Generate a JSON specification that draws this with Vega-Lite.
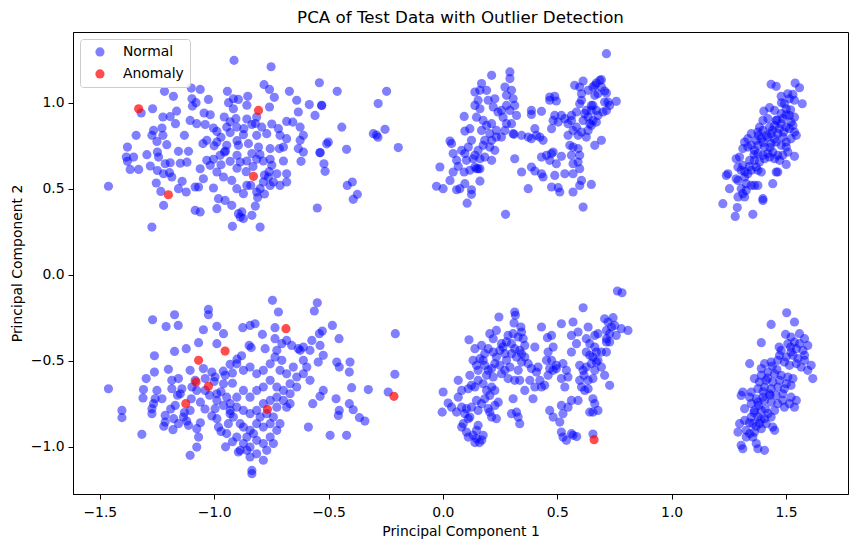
{
  "$schema": "https://vega.github.io/schema/vega-lite/v6.json",
  "width": 775,
  "height": 462,
  "autosize": {"type": "none"},
  "padding": {"left": 73, "top": 32, "right": 9, "bottom": 53},
  "title": {
    "text": "PCA of Test Data with Outlier Detection",
    "font": "DejaVu Sans",
    "fontSize": 16.7,
    "fontWeight": "normal",
    "color": "black",
    "offset": 5
  },
  "datasets": {
    "normal": [
      {"x":-0.913,"y":1.247},{"x":-0.751,"y":1.210},{"x":-0.540,"y":1.117},{"x":-0.782,"y":1.106},{"x":-0.758,"y":1.078},{"x":-1.217,"y":1.067},{"x":-1.100,"y":1.086},{"x":-1.061,"y":1.078},{"x":-0.942,"y":1.067},{"x":-0.671,"y":1.067},
      {"x":-0.462,"y":1.067},{"x":-0.246,"y":1.067},{"x":-1.178,"y":1.038},{"x":-0.853,"y":1.038},{"x":-0.737,"y":1.032},{"x":-1.097,"y":1.024},{"x":-1.025,"y":1.020},{"x":-0.916,"y":1.024},{"x":-0.894,"y":1.020},{"x":-0.639,"y":1.015},
      {"x":-1.079,"y":1.001},{"x":-0.937,"y":1.001},{"x":-0.584,"y":0.990},{"x":-0.530,"y":0.986},{"x":-0.283,"y":0.996},{"x":-1.269,"y":0.966},{"x":-1.319,"y":0.941},{"x":-1.164,"y":0.952},{"x":-1.095,"y":0.981},{"x":-1.044,"y":0.941},
      {"x":-1.017,"y":0.931},{"x":-0.916,"y":0.966},{"x":-0.857,"y":0.986},{"x":-0.758,"y":0.976},{"x":-0.632,"y":0.947},{"x":-0.559,"y":0.927},{"x":-1.224,"y":0.918},{"x":-1.192,"y":0.920},{"x":-0.956,"y":0.918},{"x":-0.905,"y":0.908},
      {"x":-0.857,"y":0.906},{"x":-0.814,"y":0.918},{"x":-0.683,"y":0.892},{"x":-0.656,"y":0.888},{"x":-0.624,"y":0.859},{"x":-1.169,"y":0.879},{"x":-1.105,"y":0.898},{"x":-1.076,"y":0.879},{"x":-1.039,"y":0.874},{"x":-1.003,"y":0.854},
      {"x":-0.945,"y":0.859},{"x":-0.901,"y":0.859},{"x":-0.835,"y":0.874},{"x":-0.792,"y":0.859},{"x":-0.748,"y":0.877},{"x":-0.719,"y":0.850},{"x":-0.442,"y":0.859},{"x":-0.253,"y":0.846},{"x":-0.304,"y":0.821},{"x":-0.290,"y":0.813},
      {"x":-1.228,"y":0.854},{"x":-1.265,"y":0.840},{"x":-1.272,"y":0.811},{"x":-1.341,"y":0.811},{"x":-1.224,"y":0.811},{"x":-1.130,"y":0.811},{"x":-0.988,"y":0.834},{"x":-0.930,"y":0.827},{"x":-0.872,"y":0.815},{"x":-0.814,"y":0.811},
      {"x":-0.770,"y":0.821},{"x":-0.712,"y":0.811},{"x":-0.683,"y":0.792},{"x":-0.624,"y":0.782},{"x":-0.610,"y":0.811},{"x":-0.501,"y":0.772},{"x":-0.508,"y":0.762},{"x":-1.250,"y":0.776},{"x":-1.207,"y":0.757},{"x":-1.379,"y":0.743},
      {"x":-1.294,"y":0.699},{"x":-1.248,"y":0.714},{"x":-1.156,"y":0.718},{"x":-1.112,"y":0.718},{"x":-1.049,"y":0.763},{"x":-1.032,"y":0.782},{"x":-0.988,"y":0.772},{"x":-0.945,"y":0.753},{"x":-0.894,"y":0.753},{"x":-0.850,"y":0.763},
      {"x":-0.806,"y":0.743},{"x":-0.755,"y":0.734},{"x":-0.715,"y":0.734},{"x":-0.632,"y":0.734},{"x":-0.610,"y":0.714},{"x":-0.537,"y":0.711},{"x":-0.421,"y":0.730},{"x":-0.195,"y":0.740},{"x":-1.384,"y":0.685},{"x":-1.379,"y":0.660},
      {"x":-1.352,"y":0.685},{"x":-1.367,"y":0.613},{"x":-1.330,"y":0.613},{"x":-1.279,"y":0.633},{"x":-1.243,"y":0.685},{"x":-1.214,"y":0.646},{"x":-1.192,"y":0.652},{"x":-1.148,"y":0.649},{"x":-1.119,"y":0.655},{"x":-1.248,"y":0.607},
      {"x":-1.221,"y":0.588},{"x":-1.195,"y":0.594},{"x":-1.185,"y":0.569},{"x":-1.061,"y":0.617},{"x":-1.032,"y":0.666},{"x":-1.003,"y":0.672},{"x":-0.974,"y":0.695},{"x":-0.955,"y":0.714},{"x":-0.900,"y":0.695},{"x":-0.886,"y":0.656},
      {"x":-0.857,"y":0.662},{"x":-0.835,"y":0.705},{"x":-0.814,"y":0.672},{"x":-0.785,"y":0.662},{"x":-0.755,"y":0.672},{"x":-0.748,"y":0.637},{"x":-0.697,"y":0.662},{"x":-0.683,"y":0.588},{"x":-0.683,"y":0.540},{"x":-0.726,"y":0.588},
      {"x":-0.763,"y":0.569},{"x":-0.785,"y":0.540},{"x":-0.799,"y":0.501},{"x":-0.814,"y":0.482},{"x":-0.857,"y":0.520},{"x":-0.872,"y":0.472},{"x":-0.901,"y":0.501},{"x":-0.923,"y":0.549},{"x":-0.959,"y":0.569},{"x":-0.988,"y":0.598},
      {"x":-1.017,"y":0.637},{"x":-1.047,"y":0.559},{"x":-1.068,"y":0.511},{"x":-1.083,"y":0.511},{"x":-1.003,"y":0.505},{"x":-0.981,"y":0.443},{"x":-0.952,"y":0.433},{"x":-0.923,"y":0.404},{"x":-0.988,"y":0.385},{"x":-0.894,"y":0.356},
      {"x":-0.886,"y":0.336},{"x":-0.872,"y":0.327},{"x":-0.879,"y":0.366},{"x":-0.835,"y":0.346},{"x":-0.799,"y":0.278},{"x":-0.920,"y":0.282},{"x":-1.272,"y":0.278},{"x":-1.221,"y":0.404},{"x":-1.253,"y":0.534},{"x":-1.233,"y":0.485},
      {"x":-1.156,"y":0.501},{"x":-1.122,"y":0.482},{"x":-1.140,"y":0.544},{"x":-1.462,"y":0.515},{"x":-1.083,"y":0.375},{"x":-1.061,"y":0.366},{"x":-0.755,"y":0.520},{"x":-0.741,"y":0.540},{"x":-0.712,"y":0.520},{"x":-0.549,"y":0.389},
      {"x":-0.520,"y":0.646},{"x":-0.515,"y":0.602},{"x":-0.418,"y":0.520},{"x":-0.396,"y":0.540},{"x":-0.374,"y":0.468},{"x":-0.392,"y":0.439},{"x":-0.620,"y":0.660},{"x":-0.697,"y":0.743},{"x":-0.95,"y":0.72},{"x":-0.90,"y":0.62},
      {"x":-0.86,"y":0.60},{"x":-0.83,"y":0.63},{"x":-0.80,"y":0.70},{"x":-0.78,"y":0.58},{"x":-0.76,"y":0.60},{"x":-0.84,"y":0.52},{"x":-0.81,"y":0.45},{"x":-0.82,"y":0.40},{"x":-0.78,"y":0.47},{"x":-0.93,"y":0.66},
      {"x":-0.97,"y":0.64},{"x":-1.00,"y":0.75},{"x":-0.90,"y":0.78},{"x":-0.87,"y":0.85},{"x":-0.82,"y":0.88},{"x":-0.93,"y":0.89},{"x":-0.97,"y":0.80},{"x":-0.284,"y":0.800},{"x":-0.530,"y":0.984},{"x":-0.537,"y":0.710},

      {"x":-0.745,"y":-0.148},{"x":-0.549,"y":-0.162},{"x":-0.562,"y":-0.210},{"x":-0.719,"y":-0.216},{"x":-1.025,"y":-0.201},{"x":-1.025,"y":-0.232},{"x":-1.173,"y":-0.232},{"x":-1.269,"y":-0.261},{"x":-1.210,"y":-0.300},{"x":-1.157,"y":-0.294},
      {"x":-1.047,"y":-0.319},{"x":-0.988,"y":-0.299},{"x":-0.959,"y":-0.342},{"x":-0.875,"y":-0.307},{"x":-0.843,"y":-0.294},{"x":-0.821,"y":-0.284},{"x":-0.789,"y":-0.346},{"x":-0.734,"y":-0.307},{"x":-0.527,"y":-0.327},{"x":-0.540,"y":-0.342},
      {"x":-0.483,"y":-0.294},{"x":-0.454,"y":-0.371},{"x":-0.208,"y":-0.342},{"x":-1.068,"y":-0.394},{"x":-0.988,"y":-0.400},{"x":-1.122,"y":-0.429},{"x":-1.173,"y":-0.445},{"x":-1.261,"y":-0.470},{"x":-0.847,"y":-0.410},{"x":-0.838,"y":-0.423},
      {"x":-0.777,"y":-0.429},{"x":-0.734,"y":-0.371},{"x":-0.704,"y":-0.400},{"x":-0.683,"y":-0.381},{"x":-0.661,"y":-0.410},{"x":-0.632,"y":-0.429},{"x":-0.610,"y":-0.420},{"x":-0.581,"y":-0.439},{"x":-0.573,"y":-0.381},{"x":-0.537,"y":-0.410},
      {"x":-0.523,"y":-0.468},{"x":-0.545,"y":-0.507},{"x":-1.200,"y":-0.549},{"x":-1.261,"y":-0.565},{"x":-1.297,"y":-0.603},{"x":-1.309,"y":-0.667},{"x":-1.311,"y":-0.716},{"x":-1.258,"y":-0.720},{"x":-1.462,"y":-0.662},{"x":-1.403,"y":-0.788},
      {"x":-1.403,"y":-0.830},{"x":-1.316,"y":-0.927},{"x":-1.272,"y":-0.778},{"x":-1.272,"y":-0.807},{"x":-1.265,"y":-0.749},{"x":-1.250,"y":-0.672},{"x":-1.228,"y":-0.720},{"x":-1.214,"y":-0.817},{"x":-1.214,"y":-0.856},{"x":-1.185,"y":-0.613},
      {"x":-1.156,"y":-0.603},{"x":-1.185,"y":-0.662},{"x":-1.170,"y":-0.759},{"x":-1.177,"y":-0.836},{"x":-1.156,"y":-0.865},{"x":-1.134,"y":-0.827},{"x":-1.112,"y":-0.875},{"x":-1.105,"y":-0.788},{"x":-1.148,"y":-0.691},{"x":-1.141,"y":-0.662},
      {"x":-1.105,"y":-0.555},{"x":-1.097,"y":-0.652},{"x":-1.076,"y":-0.672},{"x":-1.083,"y":-0.613},{"x":-1.076,"y":-0.894},{"x":-1.068,"y":-0.943},{"x":-1.076,"y":-1.001},{"x":-1.105,"y":-1.049},{"x":-1.047,"y":-0.545},{"x":-1.039,"y":-0.603},
      {"x":-1.039,"y":-0.672},{"x":-1.010,"y":-0.565},{"x":-0.996,"y":-0.594},{"x":-0.988,"y":-0.691},{"x":-0.988,"y":-0.730},{"x":-0.996,"y":-0.778},{"x":-0.988,"y":-0.836},{"x":-0.981,"y":-0.885},{"x":-0.945,"y":-0.923},{"x":-0.938,"y":-0.865},
      {"x":-0.930,"y":-0.807},{"x":-0.959,"y":-0.759},{"x":-0.945,"y":-0.711},{"x":-0.959,"y":-0.633},{"x":-0.952,"y":-0.584},
      {"x":-0.901,"y":-0.517},{"x":-0.872,"y":-0.555},{"x":-0.843,"y":-0.536},{"x":-0.814,"y":-0.575},{"x":-0.785,"y":-0.555},{"x":-0.755,"y":-0.517},{"x":-0.734,"y":-0.478},{"x":-0.726,"y":-0.439},{"x":-0.704,"y":-0.497},{"x":-0.712,"y":-0.555},
      {"x":-0.683,"y":-0.575},{"x":-0.654,"y":-0.536},{"x":-0.639,"y":-0.594},{"x":-0.668,"y":-0.633},{"x":-0.697,"y":-0.672},{"x":-0.726,"y":-0.652},{"x":-0.755,"y":-0.613},{"x":-0.785,"y":-0.652},{"x":-0.814,"y":-0.672},{"x":-0.843,"y":-0.711},
      {"x":-0.872,"y":-0.672},{"x":-0.901,"y":-0.711},{"x":-0.930,"y":-0.749},{"x":-0.901,"y":-0.769},{"x":-0.872,"y":-0.788},{"x":-0.843,"y":-0.807},{"x":-0.814,"y":-0.788},{"x":-0.785,"y":-0.749},{"x":-0.755,"y":-0.730},{"x":-0.726,"y":-0.711},
      {"x":-0.697,"y":-0.730},{"x":-0.668,"y":-0.691},{"x":-0.639,"y":-0.652},{"x":-0.610,"y":-0.575},{"x":-0.595,"y":-0.536},{"x":-0.581,"y":-0.613},{"x":-0.610,"y":-0.497},{"x":-0.624,"y":-0.439},{"x":-0.726,"y":-0.769},{"x":-0.741,"y":-0.827},
      {"x":-0.755,"y":-0.865},{"x":-0.785,"y":-0.885},{"x":-0.814,"y":-0.865},{"x":-0.843,"y":-0.904},{"x":-0.857,"y":-0.943},{"x":-0.872,"y":-0.981},{"x":-0.886,"y":-1.020},{"x":-0.843,"y":-1.001},{"x":-0.814,"y":-0.962},{"x":-0.785,"y":-0.981},
      {"x":-0.755,"y":-0.943},{"x":-0.726,"y":-0.904},{"x":-0.712,"y":-0.865},{"x":-0.814,"y":-1.040},{"x":-0.785,"y":-1.078},{"x":-0.843,"y":-1.059},{"x":-0.857,"y":-1.020},{"x":-0.741,"y":-0.981},{"x":-0.770,"y":-1.020},{"x":-0.828,"y":-0.923},
      {"x":-0.799,"y":-0.827},{"x":-0.770,"y":-0.807},{"x":-0.683,"y":-0.769},{"x":-0.668,"y":-0.749},{"x":-0.872,"y":-0.885},{"x":-0.886,"y":-0.865},{"x":-0.916,"y":-0.827},{"x":-0.901,"y":-0.943},{"x":-0.930,"y":-0.788},
      {"x":-0.835,"y":-1.137},{"x":-0.835,"y":-1.156},{"x":-0.894,"y":-1.030},{"x":-0.493,"y":-0.933},{"x":-0.421,"y":-0.933},{"x":-0.588,"y":-0.885},{"x":-0.523,"y":-0.672},{"x":-0.537,"y":-0.706},{"x":-0.569,"y":-0.749},{"x":-0.464,"y":-0.507},
      {"x":-0.453,"y":-0.536},{"x":-0.409,"y":-0.565},{"x":-0.406,"y":-0.507},{"x":-0.399,"y":-0.656},{"x":-0.326,"y":-0.667},{"x":-0.467,"y":-0.720},{"x":-0.453,"y":-0.788},{"x":-0.457,"y":-0.817},{"x":-0.409,"y":-0.749},{"x":-0.392,"y":-0.784},
      {"x":-0.365,"y":-0.830},{"x":-0.341,"y":-0.850},{"x":-0.210,"y":-0.578},{"x":-0.239,"y":-0.681},{"x":-0.90,"y":-0.49},{"x":-0.93,"y":-0.52},{"x":-0.88,"y":-0.47},{"x":-0.96,"y":-0.56},
      {"x":-1.02,"y":-0.70},{"x":-1.04,"y":-0.78},{"x":-1.01,"y":-0.82},{"x":-1.06,"y":-0.74},{"x":-1.10,"y":-0.72},{"x":-1.13,"y":-0.80},{"x":-1.16,"y":-0.70},{"x":-1.19,"y":-0.78},{"x":-1.22,"y":-0.88},{"x":-1.18,"y":-0.90},
      {"x":-1.12,"y":-0.85},{"x":-1.06,"y":-0.86},{"x":-0.97,"y":-0.91},{"x":-0.92,"y":-0.97},{"x":-0.95,"y":-1.00},{"x":-1.00,"y":-0.62},{"x":-0.97,"y":-0.68},{"x":-0.92,"y":-0.63},{"x":-0.92,"y":-0.57},

      {"x":0.715,"y":1.286},{"x":0.274,"y":0.352},{"x":0.613,"y":0.394},{"x":-0.028,"y":0.515},{"x":0.001,"y":0.501},{"x":-0.013,"y":0.627},{"x":0.031,"y":0.549},{"x":0.060,"y":0.495},{"x":0.074,"y":0.501},{"x":0.096,"y":0.530},
      {"x":0.106,"y":0.417},{"x":0.125,"y":0.468},{"x":0.125,"y":0.495},{"x":0.162,"y":0.545},{"x":0.045,"y":0.598},{"x":0.067,"y":0.631},{"x":0.060,"y":0.666},{"x":0.045,"y":0.705},{"x":0.038,"y":0.763},{"x":0.031,"y":0.778},
      {"x":0.082,"y":0.724},{"x":0.096,"y":0.705},{"x":0.103,"y":0.666},{"x":0.093,"y":0.598},{"x":0.118,"y":0.608},{"x":0.140,"y":0.627},{"x":0.154,"y":0.617},{"x":0.132,"y":0.675},{"x":0.111,"y":0.743},{"x":0.125,"y":0.782},
      {"x":0.096,"y":0.836},{"x":0.118,"y":0.850},{"x":0.093,"y":0.921},{"x":0.147,"y":0.917},{"x":0.162,"y":0.966},{"x":0.140,"y":0.985},{"x":0.154,"y":1.015},{"x":0.169,"y":1.112},{"x":0.162,"y":1.073},{"x":0.140,"y":1.063},
      {"x":0.191,"y":1.073},{"x":0.213,"y":1.160},{"x":0.198,"y":1.015},{"x":0.227,"y":1.024},{"x":0.220,"y":0.976},{"x":0.241,"y":0.947},{"x":0.256,"y":0.956},{"x":0.278,"y":0.985},{"x":0.271,"y":1.092},{"x":0.293,"y":1.180},
      {"x":0.293,"y":1.141},{"x":0.300,"y":1.073},{"x":0.307,"y":1.024},{"x":0.314,"y":0.985},{"x":0.278,"y":1.044},{"x":0.176,"y":0.898},{"x":0.191,"y":0.869},{"x":0.169,"y":0.840},{"x":0.213,"y":0.879},{"x":0.205,"y":0.821},
      {"x":0.234,"y":0.840},{"x":0.234,"y":0.801},{"x":0.213,"y":0.782},{"x":0.183,"y":0.782},{"x":0.176,"y":0.753},{"x":0.205,"y":0.743},{"x":0.227,"y":0.724},{"x":0.256,"y":0.801},{"x":0.271,"y":0.840},{"x":0.278,"y":0.879},
      {"x":0.263,"y":0.917},{"x":0.300,"y":0.879},{"x":0.307,"y":0.821},{"x":0.293,"y":0.956},{"x":0.322,"y":0.927},{"x":0.154,"y":0.724},{"x":0.140,"y":0.695},{"x":0.162,"y":0.675},{"x":0.183,"y":0.685},{"x":0.213,"y":0.666},
      {"x":0.147,"y":0.617},{"x":0.162,"y":0.617},{"x":0.314,"y":0.675},{"x":0.344,"y":0.598},{"x":0.373,"y":0.501},{"x":0.311,"y":0.817},{"x":0.344,"y":0.811},{"x":0.373,"y":0.801},{"x":0.387,"y":0.956},{"x":0.387,"y":0.933},
      {"x":0.431,"y":0.951},{"x":0.402,"y":0.850},{"x":0.409,"y":0.811},{"x":0.387,"y":0.792},{"x":0.424,"y":0.801},{"x":0.438,"y":0.782},{"x":0.387,"y":0.627},{"x":0.402,"y":0.604},{"x":0.431,"y":0.588},{"x":0.438,"y":0.569},
      {"x":0.431,"y":0.685},{"x":0.453,"y":0.695},{"x":0.475,"y":0.705},{"x":0.467,"y":0.666},{"x":0.496,"y":0.646},{"x":0.482,"y":0.714},{"x":0.518,"y":0.689},{"x":0.475,"y":0.511},{"x":0.504,"y":0.507},{"x":0.511,"y":0.482},
      {"x":0.489,"y":0.578},{"x":0.533,"y":0.588},{"x":0.569,"y":0.588},{"x":0.569,"y":0.482},{"x":0.598,"y":0.520},{"x":0.606,"y":0.549},{"x":0.598,"y":0.617},{"x":0.591,"y":0.656},{"x":0.569,"y":0.646},{"x":0.562,"y":0.695},
      {"x":0.569,"y":0.743},{"x":0.591,"y":0.734},{"x":0.555,"y":0.753},{"x":0.598,"y":0.695},{"x":0.649,"y":0.526},{"x":0.627,"y":0.801},{"x":0.664,"y":0.753},{"x":0.693,"y":0.782},{"x":0.467,"y":1.034},{"x":0.489,"y":1.038},
      {"x":0.467,"y":1.015},{"x":0.496,"y":1.011},{"x":0.489,"y":0.927},{"x":0.482,"y":0.898},{"x":0.475,"y":0.850},{"x":0.504,"y":0.888},{"x":0.533,"y":0.908},{"x":0.547,"y":0.879},{"x":0.562,"y":0.898},{"x":0.569,"y":0.840},
      {"x":0.584,"y":0.859},{"x":0.547,"y":0.811},{"x":0.591,"y":0.811},{"x":0.606,"y":0.830},{"x":0.613,"y":0.898},{"x":0.620,"y":0.937},{"x":0.635,"y":0.917},{"x":0.642,"y":0.879},{"x":0.635,"y":0.840},{"x":0.649,"y":0.869},
      {"x":0.656,"y":0.898},{"x":0.671,"y":0.888},{"x":0.678,"y":0.927},{"x":0.700,"y":0.947},{"x":0.715,"y":0.956},{"x":0.729,"y":0.985},{"x":0.707,"y":1.005},{"x":0.758,"y":1.009},{"x":0.722,"y":1.005},{"x":0.671,"y":0.956},
      {"x":0.649,"y":0.956},{"x":0.656,"y":0.985},{"x":0.664,"y":1.044},{"x":0.678,"y":1.053},{"x":0.707,"y":1.069},{"x":0.715,"y":1.057},{"x":0.693,"y":1.092},{"x":0.664,"y":1.102},{"x":0.613,"y":1.127},{"x":0.635,"y":1.073},
      {"x":0.606,"y":1.053},{"x":0.598,"y":1.092},{"x":0.576,"y":1.102},{"x":0.656,"y":1.092},{"x":0.686,"y":1.131},{"x":0.693,"y":1.135},{"x":0.671,"y":1.115},{"x":0.606,"y":1.015},{"x":0.598,"y":0.995},{"x":0.627,"y":0.956},
      {"x":0.584,"y":0.947},{"x":0.562,"y":0.927},{"x":0.518,"y":0.927},{"x":0.649,"y":0.985},

      {"x":0.763,"y":-0.094},{"x":0.783,"y":-0.104},{"x":0.613,"y":-0.191},{"x":0.245,"y":-0.245},{"x":0.314,"y":-0.216},{"x":0.317,"y":-0.235},{"x":0.311,"y":-0.280},{"x":0.341,"y":-0.303},{"x":0.344,"y":-0.332},{"x":0.329,"y":-0.361},
      {"x":0.307,"y":-0.342},{"x":0.285,"y":-0.352},{"x":0.351,"y":-0.371},{"x":0.358,"y":-0.410},{"x":0.336,"y":-0.439},{"x":0.314,"y":-0.429},{"x":0.300,"y":-0.400},{"x":0.278,"y":-0.390},{"x":0.263,"y":-0.420},{"x":0.249,"y":-0.439},
      {"x":0.234,"y":-0.478},{"x":0.220,"y":-0.449},{"x":0.198,"y":-0.429},{"x":0.183,"y":-0.458},{"x":0.176,"y":-0.497},{"x":0.162,"y":-0.487},{"x":0.140,"y":-0.429},{"x":0.169,"y":-0.410},{"x":0.205,"y":-0.342},{"x":0.234,"y":-0.323},
      {"x":0.220,"y":-0.371},{"x":0.256,"y":-0.400},{"x":0.271,"y":-0.458},{"x":0.278,"y":-0.497},{"x":0.293,"y":-0.536},{"x":0.271,"y":-0.555},{"x":0.249,"y":-0.526},{"x":0.227,"y":-0.516},{"x":0.213,"y":-0.545},{"x":0.198,"y":-0.555},
      {"x":0.183,"y":-0.526},{"x":0.154,"y":-0.555},{"x":0.191,"y":-0.584},{"x":0.220,"y":-0.594},{"x":0.256,"y":-0.575},{"x":0.285,"y":-0.603},{"x":0.314,"y":-0.613},{"x":0.336,"y":-0.613},{"x":0.329,"y":-0.555},{"x":0.344,"y":-0.507},
      {"x":0.322,"y":-0.478},{"x":0.300,"y":-0.458},{"x":0.344,"y":-0.458},{"x":0.358,"y":-0.478},{"x":0.114,"y":-0.377},{"x":0.132,"y":-0.497},{"x":0.147,"y":-0.526},{"x":0.118,"y":-0.584},{"x":0.067,"y":-0.613},{"x":0.082,"y":-0.672},
      {"x":0.111,"y":-0.662},{"x":0.125,"y":-0.642},{"x":0.140,"y":-0.652},{"x":0.154,"y":-0.613},{"x":0.176,"y":-0.633},{"x":0.191,"y":-0.672},{"x":0.213,"y":-0.652},{"x":0.227,"y":-0.672},{"x":0.205,"y":-0.701},{"x":0.183,"y":-0.720},
      {"x":0.169,"y":-0.749},{"x":0.147,"y":-0.730},{"x":0.154,"y":-0.788},{"x":0.125,"y":-0.769},{"x":0.103,"y":-0.778},{"x":0.082,"y":-0.769},{"x":0.067,"y":-0.711},{"x":0.038,"y":-0.769},{"x":0.060,"y":-0.798},{"x":0.096,"y":-0.807},
      {"x":0.118,"y":-0.827},{"x":0.111,"y":-0.836},{"x":0.089,"y":-0.865},{"x":0.082,"y":-0.885},{"x":0.103,"y":-0.914},{"x":0.111,"y":-0.943},{"x":0.132,"y":-0.933},{"x":0.147,"y":-0.904},{"x":0.154,"y":-0.875},{"x":0.176,"y":-0.933},
      {"x":0.140,"y":-0.975},{"x":0.147,"y":-0.952},{"x":0.160,"y":-0.975},{"x":0.170,"y":-0.960},{"x":0.198,"y":-0.778},{"x":0.213,"y":-0.827},{"x":0.205,"y":-0.798},{"x":0.227,"y":-0.759},{"x":0.242,"y":-0.740},{"x":0.234,"y":-0.836},
      {"x":0.001,"y":-0.681},{"x":0.023,"y":-0.745},{"x":-0.003,"y":-0.798},{"x":0.307,"y":-0.720},{"x":0.322,"y":-0.798},{"x":0.329,"y":-0.827},{"x":0.336,"y":-0.865},{"x":0.300,"y":-0.807},{"x":0.358,"y":-0.672},{"x":0.380,"y":-0.613},
      {"x":0.402,"y":-0.652},{"x":0.394,"y":-0.720},{"x":0.431,"y":-0.652},{"x":0.445,"y":-0.642},{"x":0.409,"y":-0.565},{"x":0.424,"y":-0.613},{"x":0.402,"y":-0.420},{"x":0.431,"y":-0.303},{"x":0.457,"y":-0.365},{"x":0.475,"y":-0.352},
      {"x":0.482,"y":-0.420},{"x":0.460,"y":-0.449},{"x":0.453,"y":-0.497},{"x":0.475,"y":-0.497},{"x":0.467,"y":-0.545},{"x":0.482,"y":-0.555},{"x":0.496,"y":-0.545},{"x":0.460,"y":-0.584},{"x":0.496,"y":-0.526},{"x":0.518,"y":-0.284},
      {"x":0.525,"y":-0.516},{"x":0.518,"y":-0.603},{"x":0.540,"y":-0.555},{"x":0.562,"y":-0.352},{"x":0.562,"y":-0.449},{"x":0.569,"y":-0.274},{"x":0.591,"y":-0.332},{"x":0.584,"y":-0.400},{"x":0.533,"y":-0.652},{"x":0.547,"y":-0.594},
      {"x":0.598,"y":-0.613},{"x":0.606,"y":-0.652},{"x":0.620,"y":-0.672},{"x":0.635,"y":-0.662},{"x":0.591,"y":-0.730},{"x":0.598,"y":-0.526},{"x":0.613,"y":-0.555},{"x":0.617,"y":-0.584},{"x":0.627,"y":-0.536},{"x":0.635,"y":-0.613},
      {"x":0.656,"y":-0.603},{"x":0.649,"y":-0.516},{"x":0.664,"y":-0.555},{"x":0.671,"y":-0.507},{"x":0.656,"y":-0.478},{"x":0.642,"y":-0.468},{"x":0.627,"y":-0.449},{"x":0.642,"y":-0.400},{"x":0.627,"y":-0.371},{"x":0.664,"y":-0.420},
      {"x":0.671,"y":-0.449},{"x":0.678,"y":-0.497},{"x":0.693,"y":-0.536},{"x":0.693,"y":-0.449},{"x":0.707,"y":-0.584},{"x":0.715,"y":-0.390},{"x":0.715,"y":-0.449},{"x":0.729,"y":-0.642},{"x":0.635,"y":-0.303},{"x":0.664,"y":-0.352},
      {"x":0.562,"y":-0.730},{"x":0.547,"y":-0.769},{"x":0.518,"y":-0.759},{"x":0.525,"y":-0.807},{"x":0.511,"y":-0.856},{"x":0.518,"y":-0.914},{"x":0.525,"y":-0.943},{"x":0.562,"y":-0.923},{"x":0.569,"y":-0.933},{"x":0.585,"y":-0.940},
      {"x":0.540,"y":-0.962},{"x":0.467,"y":-0.788},{"x":0.482,"y":-0.827},{"x":0.656,"y":-0.720},{"x":0.664,"y":-0.749},{"x":0.656,"y":-0.798},{"x":0.678,"y":-0.788},{"x":0.642,"y":-0.798},{"x":0.656,"y":-0.925},{"x":0.707,"y":-0.255},
      {"x":0.744,"y":-0.249},{"x":0.722,"y":-0.274},{"x":0.737,"y":-0.303},{"x":0.751,"y":-0.294},{"x":0.715,"y":-0.323},{"x":0.729,"y":-0.342},{"x":0.758,"y":-0.352},{"x":0.715,"y":-0.371},{"x":0.729,"y":-0.390},{"x":0.780,"y":-0.313},
      {"x":0.809,"y":-0.323},{"x":0.678,"y":-0.342},{"x":0.373,"y":-0.516},{"x":0.387,"y":-0.545},{"x":0.416,"y":-0.536},

      {"x":1.435,"y":1.108},{"x":1.457,"y":1.096},{"x":1.540,"y":1.115},{"x":1.559,"y":1.088},{"x":1.479,"y":1.038},{"x":1.508,"y":1.053},{"x":1.530,"y":1.049},{"x":1.537,"y":1.015},{"x":1.515,"y":1.024},{"x":1.571,"y":0.995},
      {"x":1.493,"y":0.995},{"x":1.501,"y":0.966},{"x":1.479,"y":0.937},{"x":1.450,"y":0.956},{"x":1.428,"y":0.972},{"x":1.403,"y":0.952},{"x":1.421,"y":0.908},{"x":1.457,"y":0.898},{"x":1.486,"y":0.908},{"x":1.515,"y":0.927},
      {"x":1.537,"y":0.917},{"x":1.522,"y":0.888},{"x":1.399,"y":0.898},{"x":1.384,"y":0.859},{"x":1.377,"y":0.830},{"x":1.399,"y":0.840},{"x":1.428,"y":0.859},{"x":1.450,"y":0.869},{"x":1.479,"y":0.879},{"x":1.501,"y":0.859},
      {"x":1.515,"y":0.850},{"x":1.537,"y":0.830},{"x":1.530,"y":0.869},{"x":1.545,"y":0.811},{"x":1.522,"y":0.792},{"x":1.501,"y":0.772},{"x":1.486,"y":0.801},{"x":1.464,"y":0.821},{"x":1.435,"y":0.821},{"x":1.414,"y":0.811},
      {"x":1.392,"y":0.792},{"x":1.370,"y":0.782},{"x":1.348,"y":0.821},{"x":1.333,"y":0.792},{"x":1.319,"y":0.772},{"x":1.348,"y":0.753},{"x":1.377,"y":0.753},{"x":1.406,"y":0.743},{"x":1.435,"y":0.763},{"x":1.457,"y":0.772},
      {"x":1.479,"y":0.753},{"x":1.501,"y":0.743},{"x":1.508,"y":0.714},{"x":1.486,"y":0.695},{"x":1.464,"y":0.695},{"x":1.442,"y":0.714},{"x":1.421,"y":0.705},{"x":1.399,"y":0.695},{"x":1.377,"y":0.705},{"x":1.362,"y":0.724},
      {"x":1.333,"y":0.743},{"x":1.311,"y":0.734},{"x":1.297,"y":0.685},{"x":1.282,"y":0.675},{"x":1.311,"y":0.637},{"x":1.341,"y":0.666},{"x":1.362,"y":0.666},{"x":1.384,"y":0.656},{"x":1.406,"y":0.675},{"x":1.428,"y":0.685},
      {"x":1.450,"y":0.675},{"x":1.472,"y":0.666},{"x":1.537,"y":0.689},{"x":1.501,"y":0.642},{"x":1.457,"y":0.598},{"x":1.290,"y":0.627},{"x":1.304,"y":0.608},{"x":1.282,"y":0.559},{"x":1.253,"y":0.501},{"x":1.246,"y":0.588},
      {"x":1.239,"y":0.578},{"x":1.290,"y":0.549},{"x":1.319,"y":0.569},{"x":1.333,"y":0.588},{"x":1.348,"y":0.608},{"x":1.370,"y":0.627},{"x":1.377,"y":0.608},{"x":1.392,"y":0.598},{"x":1.326,"y":0.530},{"x":1.304,"y":0.501},
      {"x":1.311,"y":0.472},{"x":1.290,"y":0.453},{"x":1.319,"y":0.453},{"x":1.348,"y":0.520},{"x":1.362,"y":0.520},{"x":1.377,"y":0.520},{"x":1.326,"y":0.491},{"x":1.224,"y":0.414},{"x":1.287,"y":0.391},{"x":1.278,"y":0.340},
      {"x":1.355,"y":0.352},{"x":1.399,"y":0.443},{"x":1.399,"y":0.433},{"x":1.442,"y":0.530},{"x":1.464,"y":0.598},{"x":1.42,"y":0.80},{"x":1.45,"y":0.79},{"x":1.47,"y":0.85},{"x":1.44,"y":0.84},{"x":1.40,"y":0.77},
      {"x":1.43,"y":0.74},{"x":1.38,"y":0.81},{"x":1.49,"y":0.83},{"x":1.46,"y":0.90},{"x":1.50,"y":0.93},{"x":1.52,"y":0.96},{"x":1.48,"y":1.00},{"x":1.36,"y":0.70},{"x":1.34,"y":0.63},{"x":1.32,"y":0.60},

      {"x":1.503,"y":-0.220},{"x":1.435,"y":-0.288},{"x":1.537,"y":-0.274},{"x":1.392,"y":-0.394},{"x":1.498,"y":-0.346},{"x":1.522,"y":-0.361},{"x":1.559,"y":-0.342},{"x":1.581,"y":-0.371},{"x":1.508,"y":-0.400},{"x":1.537,"y":-0.391},
      {"x":1.559,"y":-0.400},{"x":1.595,"y":-0.410},{"x":1.545,"y":-0.429},{"x":1.574,"y":-0.439},{"x":1.522,"y":-0.449},{"x":1.479,"y":-0.439},{"x":1.472,"y":-0.468},{"x":1.501,"y":-0.478},{"x":1.530,"y":-0.468},{"x":1.552,"y":-0.487},
      {"x":1.581,"y":-0.468},{"x":1.610,"y":-0.526},{"x":1.617,"y":-0.603},{"x":1.581,"y":-0.497},{"x":1.595,"y":-0.555},{"x":1.566,"y":-0.536},{"x":1.545,"y":-0.516},{"x":1.515,"y":-0.526},{"x":1.493,"y":-0.507},{"x":1.464,"y":-0.497},
      {"x":1.435,"y":-0.507},{"x":1.406,"y":-0.516},{"x":1.341,"y":-0.516},{"x":1.392,"y":-0.545},{"x":1.362,"y":-0.603},{"x":1.392,"y":-0.584},{"x":1.421,"y":-0.565},{"x":1.450,"y":-0.575},{"x":1.479,"y":-0.584},{"x":1.472,"y":-0.613},
      {"x":1.442,"y":-0.623},{"x":1.413,"y":-0.613},{"x":1.384,"y":-0.623},{"x":1.377,"y":-0.662},{"x":1.406,"y":-0.652},{"x":1.435,"y":-0.662},{"x":1.464,"y":-0.652},{"x":1.493,"y":-0.662},{"x":1.522,"y":-0.642},{"x":1.530,"y":-0.603},
      {"x":1.508,"y":-0.594},{"x":1.501,"y":-0.633},{"x":1.486,"y":-0.691},{"x":1.457,"y":-0.701},{"x":1.428,"y":-0.691},{"x":1.399,"y":-0.711},{"x":1.370,"y":-0.720},{"x":1.348,"y":-0.681},{"x":1.311,"y":-0.681},{"x":1.304,"y":-0.701},
      {"x":1.341,"y":-0.711},{"x":1.319,"y":-0.778},{"x":1.348,"y":-0.749},{"x":1.377,"y":-0.740},{"x":1.406,"y":-0.730},{"x":1.435,"y":-0.740},{"x":1.464,"y":-0.749},{"x":1.493,"y":-0.769},{"x":1.515,"y":-0.749},{"x":1.545,"y":-0.730},
      {"x":1.537,"y":-0.769},{"x":1.522,"y":-0.711},{"x":1.486,"y":-0.730},{"x":1.362,"y":-0.788},{"x":1.392,"y":-0.788},{"x":1.421,"y":-0.807},{"x":1.377,"y":-0.827},{"x":1.348,"y":-0.827},{"x":1.406,"y":-0.836},{"x":1.435,"y":-0.827},
      {"x":1.450,"y":-0.788},{"x":1.355,"y":-0.865},{"x":1.384,"y":-0.865},{"x":1.413,"y":-0.865},{"x":1.319,"y":-0.846},{"x":1.297,"y":-0.865},{"x":1.290,"y":-0.914},{"x":1.326,"y":-0.904},{"x":1.341,"y":-0.923},{"x":1.362,"y":-0.914},
      {"x":1.392,"y":-0.894},{"x":1.442,"y":-0.885},{"x":1.450,"y":-0.904},{"x":1.355,"y":-0.943},{"x":1.326,"y":-0.943},{"x":1.304,"y":-0.991},{"x":1.311,"y":-1.011},{"x":1.370,"y":-0.981},{"x":1.377,"y":-1.011},{"x":1.406,"y":-1.020},
      {"x":1.44,"y":-0.53},{"x":1.46,"y":-0.55},{"x":1.42,"y":-0.60},{"x":1.40,"y":-0.68},{"x":1.38,"y":-0.76},{"x":1.36,"y":-0.80},{"x":1.39,"y":-0.84},{"x":1.37,"y":-0.88},{"x":1.34,"y":-0.86},{"x":1.41,"y":-0.78},
      {"x":1.43,"y":-0.70},{"x":1.47,"y":-0.42},{"x":1.52,"y":-0.42}
    ],
    "anomaly": [
      {"x":-1.330,"y":0.966},{"x":-0.806,"y":0.956},{"x":-0.828,"y":0.573},{"x":-1.200,"y":0.466},{"x":-0.686,"y":-0.313},
      {"x":-0.952,"y":-0.443},{"x":-1.068,"y":-0.497},{"x":-1.079,"y":-0.623},{"x":-1.124,"y":-0.749},{"x":-1.025,"y":-0.648},
      {"x":-0.767,"y":-0.782},{"x":-0.214,"y":-0.706},{"x":0.661,"y":-0.958}
    ]
  },
  "encoding": {
    "x": {
      "field": "x",
      "type": "quantitative",
      "scale": {"domain": [-1.617, 1.771], "nice": false, "zero": false},
      "axis": {
        "title": "Principal Component 1",
        "values": [-1.5, -1, -0.5, 0, 0.5, 1, 1.5],
        "format": ".1f",
        "labelPadding": 6,
        "titlePadding": 6
      }
    },
    "y": {
      "field": "y",
      "type": "quantitative",
      "scale": {"domain": [-1.274, 1.412], "nice": false, "zero": false},
      "axis": {
        "title": "Principal Component 2",
        "values": [-1, -0.5, 0, 0.5, 1],
        "format": ".1f",
        "titlePadding": 6
      }
    }
  },
  "layer": [
    {
      "data": {"name": "normal"},
      "mark": {"type": "circle", "size": 84, "fillOpacity": 0.5},
      "encoding": {
        "color": {
          "datum": "Normal",
          "scale": {"domain": ["Normal", "Anomaly"], "range": ["#0000ff", "#ff0000"]},
          "legend": {
            "title": null,
            "orient": "top-left",
            "offset": 7,
            "padding": 6,
            "symbolOffset": 7,
            "labelOffset": 16,
            "rowPadding": 7,
            "symbolType": "circle",
            "symbolSize": 84,
            "symbolStrokeWidth": 0,
            "labelFont": "DejaVu Sans",
            "labelFontSize": 13.9,
            "labelColor": "black",
            "fillColor": "rgba(255,255,255,0.8)",
            "strokeColor": "#cccccc",
            "cornerRadius": 3,
            "encode": {
              "symbols": {
                "update": {
                  "opacity": {"value": 1},
                  "fillOpacity": {"signal": "datum.value === 'Normal' ? 0.5 : 0.7"}
                }
              }
            }
          }
        }
      }
    },
    {
      "data": {"name": "anomaly"},
      "mark": {"type": "circle", "size": 84, "fillOpacity": 0.7},
      "encoding": {"color": {"datum": "Anomaly"}}
    }
  ],
  "config": {
    "font": "DejaVu Sans",
    "view": {"stroke": "black", "strokeWidth": 1},
    "axis": {
      "grid": false,
      "domainColor": "black",
      "domainWidth": 1,
      "tickColor": "black",
      "tickWidth": 1,
      "tickSize": 5,
      "labelFont": "DejaVu Sans",
      "labelFontSize": 13.9,
      "labelColor": "black",
      "labelPadding": 4,
      "titleFont": "DejaVu Sans",
      "titleFontSize": 13.9,
      "titleFontWeight": "normal",
      "titleColor": "black"
    }
  }
}
